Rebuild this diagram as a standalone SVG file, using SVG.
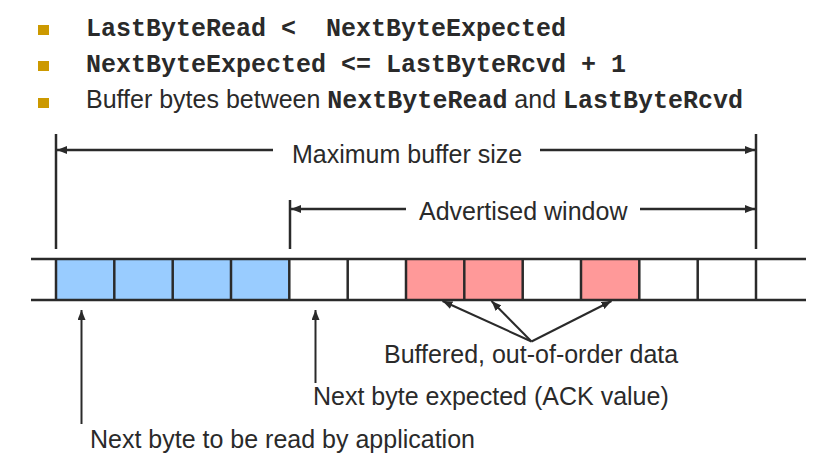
<svg xmlns="http://www.w3.org/2000/svg" width="822" height="461" viewBox="0 0 822 461">
<style>
.sans{font-family:"Liberation Sans",Arial,sans-serif;font-size:25px;fill:#2a2a2a}
.mono{font-family:"Liberation Mono","Courier New",monospace;font-size:25px;font-weight:bold;fill:#2a2a2a}
.bul{fill:#CC9900}
.ln{stroke:#2a2a2a;stroke-width:2.5;fill:none}
.thin{stroke:#2a2a2a;stroke-width:2;fill:none}
.cell{stroke:#2a2a2a;stroke-width:2.5}
.blue{fill:#99CCFF}
.red{fill:#FF9999}
.empty{fill:#ffffff}
</style>
<defs>
<marker id="ah" viewBox="0 0 10 8" refX="10" refY="4" markerWidth="10" markerHeight="8" markerUnits="userSpaceOnUse" orient="auto">
<path d="M0,0 L10,4 L0,8 z" fill="#2a2a2a"/>
</marker>
</defs>
<rect width="822" height="461" fill="#ffffff"/>
<g id="bullets">
<rect class="bul" x="38" y="25" width="11" height="10"/>
<rect class="bul" x="38" y="61" width="11" height="10"/>
<rect class="bul" x="38" y="98" width="11" height="10"/>
<text class="mono" x="86" y="36" xml:space="preserve">LastByteRead &lt;  NextByteExpected</text>
<text class="mono" x="86" y="72" xml:space="preserve">NextByteExpected &lt;= LastByteRcvd + 1</text>
<text class="sans" x="86" y="108" xml:space="preserve">Buffer bytes between <tspan class="mono">NextByteRead</tspan> and <tspan class="mono">LastByteRcvd</tspan></text>
</g>
<g id="buffer">
<rect class="blue" x="56" y="259" width="234" height="41"/>
<rect class="red" x="406" y="259" width="117" height="41"/>
<rect class="red" x="581.3" y="259" width="58.4" height="41"/>
<line class="ln" x1="31" y1="259" x2="806" y2="259"/>
<line class="ln" x1="31" y1="300" x2="806" y2="300"/>
<g class="ln">
<line x1="56" y1="259" x2="56" y2="300"/>
<line x1="114.3" y1="259" x2="114.3" y2="300"/>
<line x1="172.7" y1="259" x2="172.7" y2="300"/>
<line x1="231" y1="259" x2="231" y2="300"/>
<line x1="289.3" y1="259" x2="289.3" y2="300"/>
<line x1="347.7" y1="259" x2="347.7" y2="300"/>
<line x1="406" y1="259" x2="406" y2="300"/>
<line x1="464.3" y1="259" x2="464.3" y2="300"/>
<line x1="522.7" y1="259" x2="522.7" y2="300"/>
<line x1="581" y1="259" x2="581" y2="300"/>
<line x1="639.3" y1="259" x2="639.3" y2="300"/>
<line x1="697.7" y1="259" x2="697.7" y2="300"/>
<line x1="756" y1="259" x2="756" y2="300"/>
</g>
</g>
<g id="max-buffer">
<line class="ln" x1="56" y1="134" x2="56" y2="249"/>
<line class="ln" x1="756" y1="134" x2="756" y2="249"/>
<text class="sans" x="292" y="163">Maximum buffer size</text>
</g>
<g id="advertised-window">
<line class="ln" x1="290" y1="200" x2="290" y2="249"/>
<text class="sans" x="419" y="220">Advertised window</text>
</g>
<g id="label-buffered">
<text class="sans" x="384" y="363">Buffered, out-of-order data</text>
</g>
<g id="label-expected">
<text class="sans" x="313" y="405">Next byte expected (ACK value)</text>
</g>
<g id="label-read">
<text class="sans" x="90" y="448">Next byte to be read by application</text>
</g>
<g id="connectors">
<line class="ln" x1="273" y1="150" x2="57" y2="150" marker-end="url(#ah)"/>
<line class="ln" x1="540" y1="150" x2="755" y2="150" marker-end="url(#ah)"/>
<line class="ln" x1="406" y1="209" x2="291" y2="209" marker-end="url(#ah)"/>
<line class="ln" x1="640" y1="209" x2="755" y2="209" marker-end="url(#ah)"/>
<line class="thin" x1="531.5" y1="341.5" x2="442.5" y2="301" marker-end="url(#ah)"/>
<line class="thin" x1="531.5" y1="341.5" x2="491.5" y2="301" marker-end="url(#ah)"/>
<line class="thin" x1="531.5" y1="341.5" x2="611.5" y2="301" marker-end="url(#ah)"/>
<line class="thin" x1="81.5" y1="424" x2="81.5" y2="310" marker-end="url(#ah)"/>
<line class="thin" x1="315.5" y1="383" x2="315.5" y2="310" marker-end="url(#ah)"/>
</g>
</svg>
